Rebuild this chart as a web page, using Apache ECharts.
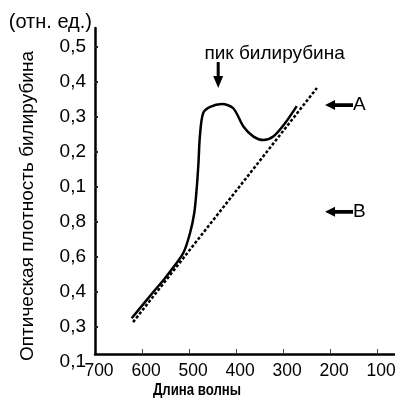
<!DOCTYPE html>
<html>
<head>
<meta charset="utf-8">
<script src="https://cdn.jsdelivr.net/npm/echarts@6/dist/echarts.min.js"></script>
<style>html,body{margin:0;padding:0;background:#fff}#c{width:395px;height:399px}</style>
</head>
<body>
<div id="c"></div>
<script>
// Y tick labels (as printed, bottom to top), placed at positions 0..9
var yLabels = ['0,1','0,3','0,4','0,6','0,8','0,1','0,2','0,3','0,4','0,5'];
// X tick labels (wavelength)
var xLabels = [700, 600, 500, 400, 300, 200, 100];
var xTicks = [600, 500, 400, 300, 200, 100];
// Curve A (solid): wavelength and optical density (tick-position units)
var solidWl = [622, 576, 555, 537, 512, 498, 489, 484, 480, 477, 470, 455, 430, 406, 384, 363, 342, 321, 296, 271];
var solidOd = [1.25, 2.0, 2.33, 2.64, 3.12, 3.68, 4.25, 4.91, 5.68, 6.44, 7.11, 7.29, 7.37, 7.25, 6.72, 6.44, 6.34, 6.44, 6.82, 7.31];
// Curve B (dashed baseline)
var dashWl = [619, 228];
var dashOd = [1.14, 7.83];

var FONT = 'Liberation Sans';
var TXT = '#000';
function zip(a, b) { return a.map(function (v, i) { return [v, b[i]]; }); }

var leftArrow = 'path://M0,5 L10,0 L10,3.2 L28,3.2 L28,6.8 L10,6.8 L10,10 Z';
var downArrow = 'path://M3.5,0 L6.5,0 L6.5,14 L10,14 L5,26 L0,14 L3.5,14 Z';

var chart = echarts.init(document.getElementById('c'), null, {renderer: 'canvas'});
chart.setOption({
  animation: false,
  backgroundColor: '#fff',
  textStyle: {fontFamily: FONT, color: TXT},
  grid: [
    {left: 95, right: 0, top: 28, bottom: 45, outerBoundsMode: 'none', containLabel: false},
    {left: 95, right: 0, top: 28, bottom: 37, outerBoundsMode: 'none', containLabel: false}
  ],
  xAxis: [
    {
      gridIndex: 0, type: 'value', inverse: true, min: 62, max: 700,
      axisLine: {show: true, lineStyle: {color: '#000', width: 2.5}},
      axisTick: {show: true, inside: true, length: 5, customValues: xTicks, lineStyle: {color: '#444', width: 1}},
      axisLabel: {show: true, customValues: xLabels, fontSize: 17.5, color: TXT, fontFamily: FONT, margin: 8, padding: [0, 0, 0, 8], hideOverlap: false},
      splitLine: {show: false}
    },
    {gridIndex: 1, type: 'value', min: 0, max: 1, show: false}
  ],
  yAxis: [
    {
      gridIndex: 0, type: 'value', min: 0.229, max: 9.543,
      axisLine: {show: true, lineStyle: {color: '#000', width: 2.5}},
      axisTick: {show: false}, axisLabel: {show: false}, splitLine: {show: false}
    },
    {
      gridIndex: 1, type: 'value', min: 0, max: 9.543, interval: 1,
      name: '(отн. ед.)', nameLocation: 'end', nameGap: 6,
      nameTextStyle: {align: 'right', verticalAlign: 'middle', fontSize: 20, color: TXT, fontFamily: FONT, padding: [0, 3, 0, 0]},
      axisLine: {show: false},
      axisTick: {show: true, inside: true, length: 3, customValues: [1,2,3,4,5,6,7,8,9], lineStyle: {color: '#222', width: 2}},
      axisLabel: {show: true, customValues: [0,1,2,3,4,5,6,7,8,9], margin: 9, fontSize: 19, color: TXT, fontFamily: FONT,
        formatter: function (v) { return yLabels[Math.round(v)]; }},
      splitLine: {show: false}
    }
  ],
  graphic: [
    {type: 'text', x: 28, y: 206, rotation: Math.PI / 2,
      style: {text: 'Оптическая плотность билирубина', fontSize: 19, fontFamily: FONT, fill: TXT, align: 'center', verticalAlign: 'middle'}},
    {type: 'text', x: 197, y: 390, scaleX: 0.8,
      style: {text: 'Длина волны', fontSize: 16.5, fontWeight: 'bold', fontFamily: FONT, fill: TXT, align: 'center', verticalAlign: 'middle'}}
  ],
  series: [
    {
      type: 'line', xAxisIndex: 0, yAxisIndex: 0, data: zip(solidWl, solidOd),
      smooth: 0.3, symbol: 'none', lineStyle: {color: '#000', width: 2.5},
      markPoint: {
        silent: true,
        data: [
          {coord: [438, 8.2], symbol: downArrow, symbolSize: [10, 26], itemStyle: {color: '#000'}, label: {show: false}},
          {coord: [181, 7.34], symbol: leftArrow, symbolSize: [28, 10], itemStyle: {color: '#000'},
            label: {show: true, formatter: 'A', position: 'right', distance: 0, fontSize: 19, color: TXT, fontFamily: FONT}},
          {coord: [181, 4.29], symbol: leftArrow, symbolSize: [28, 10], itemStyle: {color: '#000'},
            label: {show: true, formatter: 'B', position: 'right', distance: 0, fontSize: 19, color: TXT, fontFamily: FONT}},
          {coord: [318, 8.8], symbol: 'circle', symbolSize: 1, itemStyle: {color: 'rgba(0,0,0,0)'},
            label: {show: true, formatter: 'пик билирубина', position: 'inside', fontSize: 19, color: TXT, fontFamily: FONT}}
        ]
      }
    },
    {
      type: 'line', xAxisIndex: 0, yAxisIndex: 0, data: zip(dashWl, dashOd),
      symbol: 'none', lineStyle: {color: '#000', width: 2.5, type: [3, 2]}
    }
  ]
});
</script>
</body>
</html>
